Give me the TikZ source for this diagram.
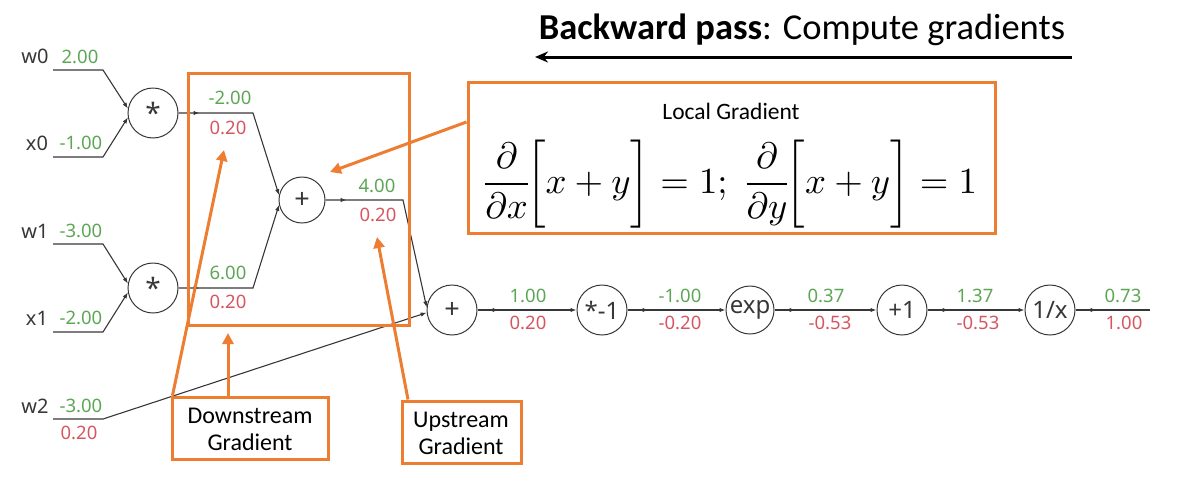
\documentclass[tikz,border=0pt]{standalone}
\usepackage{fontspec}
\usepackage{amsmath}
\usepackage{graphicx}
\setmainfont{Carlito}
\newfontfamily\graphfont{Noto Sans}
\usetikzlibrary{arrows.meta,decorations.markings}
\definecolor{orng}{RGB}{237,125,49}
\definecolor{gval}{RGB}{92,166,84}
\definecolor{rval}{RGB}{214,86,96}
\definecolor{wire}{RGB}{55,55,55}
\begin{document}
\begin{tikzpicture}[x=1pt,y=-1pt,
  gate/.style={circle,draw=wire,line width=1pt,minimum size=50pt,inner sep=0pt,text=wire,font=\graphfont\fontsize{24}{26}\selectfont},
  wirel/.style={draw=wire,line width=1.1pt},
  tipend/.style={-{Latex[length=6pt,width=4.5pt]}},
  startmark/.style={postaction={decorate},decoration={markings,mark=at position 21pt with {\arrow{Latex[length=6pt,width=4.5pt]}}}},
  edge/.style={wirel,tipend,startmark},
  inwire/.style={wirel,tipend},
  fwd/.style={text=gval,font=\graphfont\fontsize{18.5}{20}\selectfont,inner sep=0pt},
  bwd/.style={text=rval,font=\graphfont\fontsize{18.5}{20}\selectfont,inner sep=0pt},
  inlab/.style={text=wire,font=\graphfont\fontsize{20}{22}\selectfont,inner sep=0pt},
  obox/.style={draw=orng,line width=3pt,inner sep=0pt},
  oarr/.style={draw=orng,line width=3pt,-{Triangle[length=11pt,width=11pt]}},
  callout/.style={font=\fontsize{24}{27}\selectfont,align=center,inner sep=0pt}
]
\path[use as bounding box] (0,0) rectangle (1195,480);

% title
\node[inner sep=0pt,font=\fontsize{36.5}{40}\selectfont] (title) at (802,30) {\textbf{Backward pass}: Compute gradients};
\coordinate (ta) at (1072,57);
\coordinate (tb) at (535,57);
\draw[line width=3pt,-{Stealth[length=13pt,width=11pt]}] (ta) -- (tb);

% gates
\node[gate] (m0) at (153,113) {\raisebox{-0.22em}{\fontsize{28}{30}\selectfont *}};
\node[gate] (m1) at (153,288) {\raisebox{-0.22em}{\fontsize{28}{30}\selectfont *}};
\node[gate,minimum size=46pt] (p0) at (302,200) {\fontsize{27}{30}\selectfont +};
\node[gate] (p1) at (452,310) {\fontsize{27}{30}\selectfont +};
\node[gate] (n1) at (602,310) {*-1};
\node[gate,minimum size=48pt] (ex) at (750,310) {exp};
\node[gate] (a1) at (902,310) {+1};
\node[gate] (rc) at (1050,310) {1/x};
\coordinate (out) at (1150,310);

% inputs
\node[inlab] (w0l) at (35,56) {w0};
\node[fwd] (w0v) at (80,57) {2.00};
\coordinate (w0a) at (53,70); \coordinate (w0b) at (103,70);
\draw[inwire] (w0a) -- (w0b) -- (m0.170);

\node[inlab] (x0l) at (37,143) {x0};
\node[fwd] (x0v) at (81,143) {-1.00};
\coordinate (x0a) at (53,157); \coordinate (x0b) at (103,157);
\draw[inwire] (x0a) -- (x0b) -- (m0.190);

\node[inlab] (w1l) at (35,231) {w1};
\node[fwd] (w1v) at (81,231) {-3.00};
\coordinate (w1a) at (53,244); \coordinate (w1b) at (103,244);
\draw[inwire] (w1a) -- (w1b) -- (m1.170);

\node[inlab] (x1l) at (37,318) {x1};
\node[fwd] (x1v) at (81,318) {-2.00};
\coordinate (x1a) at (53,332); \coordinate (x1b) at (103,332);
\draw[inwire] (x1a) -- (x1b) -- (m1.190);

\node[inlab] (w2l) at (35,406) {w2};
\node[fwd] (w2v) at (81,406) {-3.00};
\node[bwd] (w2g) at (79,433) {0.20};
\coordinate (w2a) at (53,419); \coordinate (w2b) at (103,419);
\draw[inwire] (w2a) -- (w2b) -- (p1.186);

% first layer outputs
\coordinate (k0) at (253,113);
\draw[edge] (m0) -- (k0) -- (p0.168);
\node[fwd] (v0) at (230,98) {-2.00};
\node[bwd] (g0) at (228,128) {0.20};

\coordinate (k1) at (253,288);
\draw[edge] (m1) -- (k1) -- (p0.192);
\node[fwd] (v1) at (228,273) {6.00};
\node[bwd] (g1) at (228,302) {0.20};

\coordinate (k2) at (403,200);
\draw[edge] (p0) -- (k2) -- (p1.174);
\node[fwd] (v2) at (377,186) {4.00};
\node[bwd] (g2) at (378,215) {0.20};

% chain
\draw[edge] (p1) -- (n1);
\node[fwd] (v3) at (528,296) {1.00};
\node[bwd] (g3) at (528,323) {0.20};
\draw[edge] (n1) -- (ex);
\node[fwd] (v4) at (680,296) {-1.00};
\node[bwd] (g4) at (680,323) {-0.20};
\draw[edge] (ex) -- (a1);
\node[fwd] (v5) at (826,296) {0.37};
\node[bwd] (g5) at (830,323) {-0.53};
\draw[edge] (a1) -- (rc);
\node[fwd] (v6) at (975,296) {1.37};
\node[bwd] (g6) at (978,323) {-0.53};
\draw[wirel,startmark] (rc) -- (out);
\node[fwd] (v7) at (1123,296) {0.73};
\node[bwd] (g7) at (1124,323) {1.00};

% orange boxes
\node[obox,minimum width=221pt,minimum height=252pt] (gbox) at (298.5,199) {};
\node[obox,minimum width=527pt,minimum height=151pt] (lgbox) at (731.5,157.5) {};
\node[inner sep=0pt,font=\fontsize{23.5}{26}\selectfont] (lgt) at (731,111) {Local Gradient};
\node[inner sep=0pt] (frm) at (729,184) {\resizebox{496pt}{!}{$\displaystyle \frac{\partial}{\partial x}\!\biggl[x+y\biggr]=1;\ \frac{\partial}{\partial y}\!\biggl[x+y\biggr]=1$}};
\coordinate (tgt0) at (330,172);
\draw[oarr] ([yshift=35.5pt]lgbox.west) -- (tgt0);

\node[obox,minimum width=156pt,minimum height=62pt] (dbox) at (250,428) {};
\node[callout] (dtxt) at (250,429) {Downstream\\Gradient};
\coordinate (tgt1) at (224,150);
\coordinate (tgt2) at (228,333);
\draw[oarr] ([xshift=2pt]dbox.north west) -- (tgt1);
\draw[oarr] ([xshift=-22pt]dbox.north) -- (tgt2);

\node[obox,minimum width=119pt,minimum height=62pt] (ubox) at (461.5,432) {};
\node[callout] (utxt) at (461,433) {Upstream\\Gradient};
\coordinate (tgt3) at (377,237);
\draw[oarr] ([xshift=-53.5pt]ubox.north) -- (tgt3);
\end{tikzpicture}
\end{document}
